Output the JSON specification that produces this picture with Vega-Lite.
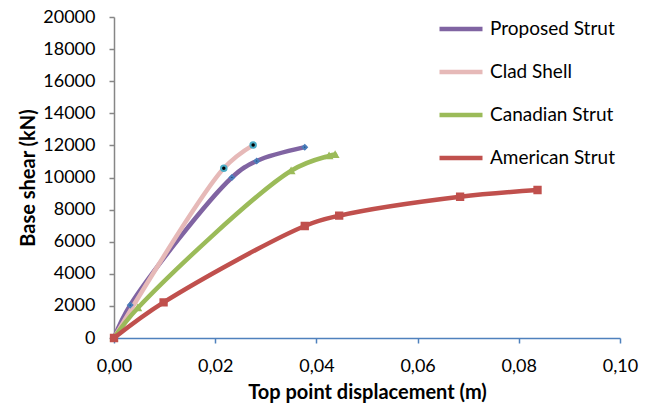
{
  "$schema": "https://vega.github.io/schema/vega-lite/v6.json",
  "width": 506,
  "height": 321,
  "autosize": {"type": "none"},
  "padding": {"left": 114, "top": 17, "right": 36, "bottom": 69},
  "background": "white",
  "config": {
    "view": {"stroke": null},
    "font": "Lato"
  },
  "data": {
    "values": [
      {"series": "Proposed Strut", "order": 0, "d": 0, "v": 0},
      {"series": "Proposed Strut", "order": 1, "d": 0.0032, "v": 2050},
      {"series": "Proposed Strut", "order": 2, "d": 0.0233, "v": 10000},
      {"series": "Proposed Strut", "order": 3, "d": 0.0282, "v": 11030},
      {"series": "Proposed Strut", "order": 4, "d": 0.0377, "v": 11890},
      {"series": "Clad Shell", "order": 0, "d": 0, "v": 0},
      {"series": "Clad Shell", "order": 1, "d": 0.0217, "v": 10570},
      {"series": "Clad Shell", "order": 2, "d": 0.0275, "v": 12020},
      {"series": "Canadian Strut", "order": 0, "d": 0, "v": 0},
      {"series": "Canadian Strut", "order": 1, "d": 0.0047, "v": 1870},
      {"series": "Canadian Strut", "order": 2, "d": 0.035, "v": 10420},
      {"series": "Canadian Strut", "order": 3, "d": 0.0425, "v": 11350},
      {"series": "Canadian Strut", "order": 4, "d": 0.0437, "v": 11430},
      {"series": "American Strut", "order": 0, "d": 0, "v": 0},
      {"series": "American Strut", "order": 1, "d": 0.0098, "v": 2220},
      {"series": "American Strut", "order": 2, "d": 0.0377, "v": 6980},
      {"series": "American Strut", "order": 3, "d": 0.0445, "v": 7620},
      {"series": "American Strut", "order": 4, "d": 0.0684, "v": 8800},
      {"series": "American Strut", "order": 5, "d": 0.0837, "v": 9220}
    ]
  },
  "encoding": {
    "x": {
      "field": "d",
      "type": "quantitative",
      "scale": {"domain": [0, 0.1], "nice": false, "zero": true},
      "axis": {
        "values": [0, 0.02, 0.04, 0.06, 0.08, 0.1],
        "labelExpr": "replace(format(datum.value, '.2f'), '.', ',')",
        "labelFlush": false,
        "labelOverlap": false,
        "grid": false,
        "domainColor": "#4f81bd",
        "domainWidth": 1.5,
        "tickColor": "#4f81bd",
        "tickWidth": 1.5,
        "tickSize": 5,
        "labelFontSize": 18,
        "labelColor": "#000000",
        "labelPadding": 14,
        "title": "Top point displacement (m)",
        "titleFontSize": 20,
        "titleFontWeight": "bold",
        "titleColor": "#000000",
        "titlePadding": 7
      }
    },
    "y": {
      "field": "v",
      "type": "quantitative",
      "scale": {"domain": [0, 20000], "nice": false},
      "axis": {
        "values": [0, 2000, 4000, 6000, 8000, 10000, 12000, 14000, 16000, 18000, 20000],
        "format": "d",
        "labelFlush": false,
        "labelOverlap": false,
        "grid": false,
        "domainColor": "#868686",
        "domainWidth": 1.5,
        "tickColor": "#868686",
        "tickWidth": 1.5,
        "tickSize": 5,
        "labelFontSize": 18,
        "labelColor": "#000000",
        "labelPadding": 14,
        "title": "Base shear (kN)",
        "titleFontSize": 20,
        "titleFontWeight": "bold",
        "titleColor": "#000000",
        "titlePadding": 4
      }
    }
  },
  "layer": [
    {
      "mark": {"type": "line", "interpolate": "catmull-rom", "strokeWidth": 4.5, "strokeCap": "round"},
      "encoding": {
        "order": {"field": "order", "type": "quantitative"},
        "color": {
          "field": "series",
          "type": "nominal",
          "sort": ["Proposed Strut", "Clad Shell", "Canadian Strut", "American Strut"],
          "scale": {
            "domain": ["Proposed Strut", "Clad Shell", "Canadian Strut", "American Strut"],
            "range": ["#8064a2", "#e6b9b8", "#9bbb59", "#c0504d"]
          },
          "legend": {
            "title": null,
            "orient": "none",
            "legendX": 323,
            "legendY": -12,
            "symbolType": "stroke",
            "symbolSize": 1849,
            "symbolStrokeWidth": 4.5,
            "labelFontSize": 19,
            "labelColor": "#000000",
            "labelOffset": 5,
            "rowPadding": 9
          }
        }
      }
    },
    {
      "mark": {"type": "point", "filled": true, "strokeWidth": 2, "opacity": 1},
      "encoding": {
        "shape": {
          "condition": [
            {"test": "datum.series === 'Proposed Strut'", "value": "diamond"},
            {"test": "datum.series === 'Clad Shell'", "value": "circle"},
            {"test": "datum.series === 'Canadian Strut'", "value": "triangle-up"}
          ],
          "value": "square"
        },
        "size": {
          "condition": [
            {"test": "datum.series === 'Proposed Strut'", "value": 18},
            {"test": "datum.series === 'Clad Shell'", "value": 30},
            {"test": "datum.series === 'Canadian Strut'", "value": 30}
          ],
          "value": 40
        },
        "fill": {
          "condition": [
            {"test": "datum.series === 'Proposed Strut'", "value": "#1f3864"},
            {"test": "datum.series === 'Clad Shell'", "value": "#000000"},
            {"test": "datum.series === 'Canadian Strut'", "value": "#9bbb59"}
          ],
          "value": "#c0504d"
        },
        "stroke": {
          "condition": [
            {"test": "datum.series === 'Proposed Strut'", "value": "#4a7ebb"},
            {"test": "datum.series === 'Clad Shell'", "value": "#4bacc6"},
            {"test": "datum.series === 'Canadian Strut'", "value": "#9bbb59"}
          ],
          "value": "#c0504d"
        }
      }
    }
  ]
}
